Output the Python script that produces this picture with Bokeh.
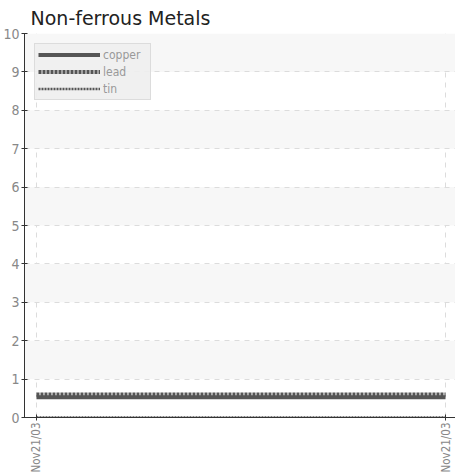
import math
from datetime import datetime
from bokeh.plotting import figure
from bokeh.models import (Range1d, FixedTicker, DatetimeTickFormatter,
                          Legend, LegendItem)
from bokeh.embed import file_html
from bokeh.resources import INLINE

# ---- data ----
dates = ["2003-11-21 00:00", "2003-11-21 23:00"]
copper = [0.53, 0.53]
lead = [0.60, 0.60]
tin = [0.0, 0.0]
y_ticks = [0, 1, 2, 3, 4, 5, 6, 7, 8, 9, 10]

x = [datetime.strptime(d, "%Y-%m-%d %H:%M") for d in dates]
xms = [(d - datetime(1970, 1, 1)).total_seconds() * 1000 for d in x]

NARROW = "'Liberation Sans Narrow', 'DejaVu Sans Condensed', sans-serif"

W, H = 455, 475
span = xms[-1] - xms[0]
p = figure(width=W, height=H, output_backend="svg", toolbar_location=None,
           x_axis_type="datetime",
           x_range=Range1d(xms[0] - span * 12 / 410, xms[-1] + span * 10 / 410),
           y_range=Range1d(0, 10),
           min_border_left=15, min_border_right=0, min_border_top=0,
           min_border_bottom=58)
p.outline_line_color = None
p.background_fill_color = "white"
p.border_fill_color = "white"

p.title.text = "Non-ferrous Metals"
p.title.text_font = "DejaVu Sans"
p.title.text_font_size = "19px"
p.title.text_font_style = "normal"
p.title.text_color = "#222222"
p.title.offset = 6
p.title.standoff = 9

# grid
p.ygrid.ticker = FixedTicker(ticks=y_ticks)
p.ygrid.grid_line_color = "#dcdcdc"
p.ygrid.grid_line_dash = "5 5"
p.ygrid.band_fill_color = "#f7f7f7"
p.ygrid.band_fill_alpha = 1.0
p.xgrid.ticker = FixedTicker(ticks=xms)
p.xgrid.grid_line_color = "#dcdcdc"
p.xgrid.grid_line_dash = "5 5"

# axes
p.yaxis.ticker = FixedTicker(ticks=y_ticks)
p.yaxis.axis_line_color = "#333333"
p.yaxis.major_tick_line_color = "#333333"
p.yaxis.major_tick_in = 3
p.yaxis.major_tick_out = 3
p.yaxis.minor_tick_line_color = None
p.yaxis.major_label_text_font = NARROW
p.yaxis.major_label_text_font_size = "14px"
p.yaxis.major_label_text_color = "#888888"
p.yaxis.major_label_standoff = 2

p.xaxis.ticker = FixedTicker(ticks=xms)
p.xaxis.axis_line_color = "#333333"
p.xaxis.major_tick_line_color = "#333333"
p.xaxis.major_tick_in = 3
p.xaxis.major_tick_out = 3
p.xaxis.minor_tick_line_color = None
p.xaxis.major_label_orientation = math.pi / 2
p.xaxis.major_label_text_font = NARROW
p.xaxis.major_label_text_font_size = "11.5px"
p.xaxis.major_label_text_color = "#888888"
p.xaxis.major_label_standoff = 2
p.xaxis.formatter = DatetimeTickFormatter(days="%b%d/%y", hours="%b%d/%y",
                                          minutes="%b%d/%y")

# series
r_cu = p.line(xms, copper, line_color="#555555", line_width=4)
r_pb = p.line(xms, lead, line_color="#555555", line_width=4, line_dash="3 1")
r_sn = p.line(xms, tin, line_color="#555555", line_width=2.5, line_dash="2 1")

legend = Legend(items=[LegendItem(label="copper", renderers=[r_cu]),
                       LegendItem(label="lead", renderers=[r_pb]),
                       LegendItem(label="tin", renderers=[r_sn])],
                location="top_left", margin=10, padding=3, spacing=2,
                glyph_width=62, glyph_height=15, label_height=15,
                label_width=44, label_standoff=3)
legend.label_text_font = NARROW
legend.label_text_font_size = "12px"
legend.label_text_color = "#999999"
legend.border_line_color = "#c8c8c8"
legend.background_fill_color = "#eeeeee"
legend.background_fill_alpha = 0.9
p.add_layout(legend)

open("out.html", "w").write(file_html(p, INLINE))
